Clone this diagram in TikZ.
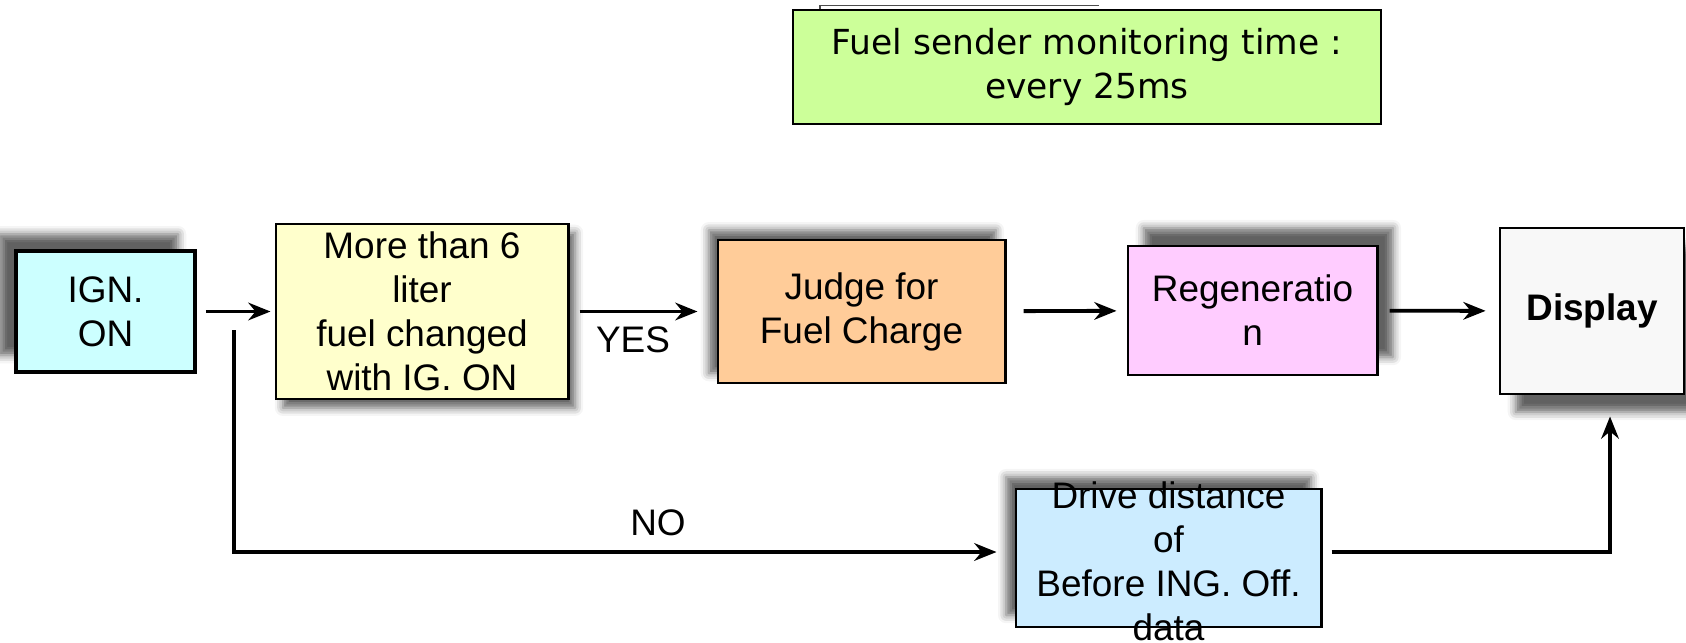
\documentclass[tikz,border=0pt]{standalone}
\usepackage{fontspec}
\setmainfont{Liberation Sans}
\newfontfamily\gulimfont{DejaVu Sans}
\usetikzlibrary{arrows.meta,shadows.blur}
\definecolor{ignblue}{HTML}{CCFFFF}
\definecolor{literyellow}{HTML}{FFFFCC}
\definecolor{judgeorange}{HTML}{FFCC99}
\definecolor{regenpink}{HTML}{FFCCFF}
\definecolor{displaygray}{HTML}{F8F8F8}
\definecolor{driveblue}{HTML}{CCECFF}
\definecolor{monitorgreen}{HTML}{CCFF99}

\begin{document}
\begin{tikzpicture}[x=0.01cm,y=-0.01cm,
  box/.style={draw,line width=0.8pt,inner sep=0pt,align=center,
    font=\fontsize{10.5}{12.5}\selectfont},
  dropshade/.style 2 args={blur shadow={shadow xshift=#1,shadow yshift=#2,
    shadow blur radius=2.3pt,shadow opacity=62}},
  flow/.style={line width=1.1pt,-{Stealth[length=6.3pt,width=5pt]}},
  lbl/.style={align=center,font=\fontsize{10.5}{12.5}\selectfont}]
  \useasboundingbox (0,0) rectangle (1686,642);

  % monitoring note
  \draw[line width=0.5pt,black!70] (820,12.5) |- (1099,5.5);
  \node[draw,line width=0.6pt,fill=monitorgreen,minimum width=5.88cm,minimum height=1.14cm,
    inner sep=0pt,align=center,font=\gulimfont\fontsize{9.8}{12.5}\selectfont]
    (monitor) at (1087,67) {Fuel sender monitoring time :\\every 25ms};

  % boxes of the flow
  \node[box,fill=ignblue,line width=1pt,minimum width=1.79cm,minimum height=1.21cm,
    dropshade={-4.8pt}{4.8pt}] (ign) at (105.5,311.5) {IGN.\\ON};
  \node[box,fill=literyellow,minimum width=2.92cm,minimum height=1.75cm,
    dropshade={2pt}{-2.5pt}] (liter) at (422,311.5) {More than 6\\liter\\fuel changed\\with IG. ON};
  \node[box,fill=judgeorange,minimum width=2.87cm,minimum height=1.43cm,
    dropshade={-2.6pt}{2.8pt}] (judge) at (861.5,311.5) {Judge for\\Fuel Charge};
  \node[box,fill=regenpink,minimum width=2.49cm,minimum height=1.29cm,
    dropshade={4.5pt}{5.1pt}] (regen) at (1252.5,310.5) {Regeneratio\\n};
  \node[box,fill=displaygray,minimum width=1.84cm,minimum height=1.66cm,
    dropshade={4.5pt}{-5.1pt}] (display) at (1592,311) {\textbf{Display}};
  \node[box,fill=driveblue,minimum width=3.05cm,minimum height=1.38cm,
    dropshade={-2.8pt}{3.4pt}] (drive) at (1168.5,558) {};
  \node[lbl] (drivetext) at (1168.5,561) {Drive distance\\of\\Before ING. Off.\\data};

  % connectors
  \draw[flow,shorten <=0.9mm,shorten >=0.4mm] (ign) -- (liter);
  \draw[flow,shorten <=1mm,shorten >=1.9mm] (liter) -- (judge);
  \draw[flow,shorten <=1.7mm,shorten >=1mm] (judge) -- (regen);
  \draw[flow,shorten <=1.1mm,shorten >=1.3mm] (regen) -- (display);
  \node[lbl] (yes) at (633,340) {YES};

  \coordinate (nostart) at (234,330);
  \coordinate (nobend) at (234,552);
  \draw[flow,shorten >=1.8mm] (nostart) -- (nobend) -- (nobend -| drive.west);
  \node[lbl] (no) at (658,523) {NO};

  \coordinate (upturn) at (1610,552);
  \draw[flow,shorten <=0.9mm,shorten >=2.1mm] (drive.east |- nobend) -- (upturn) -- (upturn |- display.south);
\end{tikzpicture}
\end{document}
